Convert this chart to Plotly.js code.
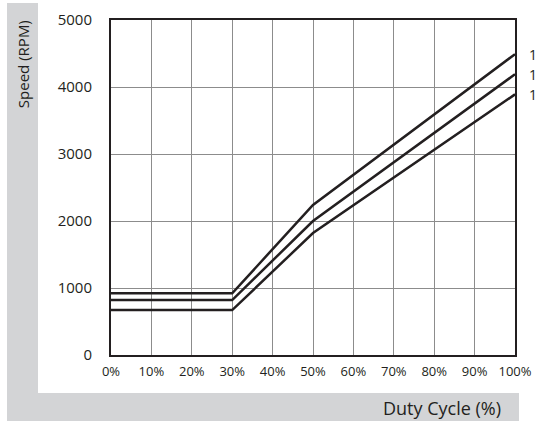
<!DOCTYPE html>
<html>
<head>
<meta charset="utf-8">
<script src="https://cdn.plot.ly/plotly-3.0.1.min.js"></script>
<style>html,body{margin:0;padding:0;background:#fff;}#chart{width:536px;height:421px;}</style>
</head>
<body>
<div id="chart"></div>
<script>
// Data
var dutyCycle = [0, 30, 50, 100];
var speedHigh = [920, 920, 2240, 4490];
var speedMid  = [820, 820, 2000, 4190];
var speedLow  = [670, 670, 1820, 3890];
var seriesLabels = ['1', '1', '1'];
var xTickVals = [0, 10, 20, 30, 40, 50, 60, 70, 80, 90, 100];
var xTickText = ['0%', '10%', '20%', '30%', '40%', '50%', '60%', '70%', '80%', '90%', '100%'];
var yTickVals = [0, 1000, 2000, 3000, 4000, 5000];
var yTickText = ['0', '1000', '2000', '3000', '4000', '5000'];

var FONT = 'Open Sans, Noto Sans, sans-serif';
var TXT = '#231f20';
var allSeries = [speedHigh, speedMid, speedLow];

var traces = allSeries.map(function (s) {
  return {
    x: dutyCycle, y: s, type: 'scatter', mode: 'lines',
    line: {color: '#231f20', width: 2.5},
    hoverinfo: 'skip', showlegend: false, cliponaxis: false
  };
});

var annotations = allSeries.map(function (s, i) {
  return {
    xref: 'paper', yref: 'y', x: 1.03, y: s[s.length - 1],
    xanchor: 'left', yanchor: 'middle', showarrow: false,
    text: seriesLabels[i], font: {family: FONT, size: 14, color: TXT}
  };
});
annotations.push({
  xref: 'paper', yref: 'paper', x: -0.218, y: 0.868,
  xanchor: 'center', yanchor: 'middle', showarrow: false, textangle: -90,
  text: 'Speed (RPM)', font: {family: FONT, size: 15, color: TXT}
});
annotations.push({
  xref: 'paper', yref: 'paper', x: 0.970, y: -0.158,
  xanchor: 'right', yanchor: 'middle', showarrow: false,
  text: 'Duty Cycle (%)', font: {family: FONT, size: 18, color: TXT}
});

var GRAY = '#d3d4d6';
var shapes = [
  {type: 'rect', xref: 'paper', yref: 'paper', x0: -0.2574, x1: -0.1807, y0: -0.197, y1: 1.0507,
   fillcolor: GRAY, line: {width: 0}, layer: 'below'},
  {type: 'rect', xref: 'paper', yref: 'paper', x0: -0.2574, x1: 1.0099, y0: -0.197, y1: -0.1134,
   fillcolor: GRAY, line: {width: 0}, layer: 'below'}
];

var layout = {
  width: 536, height: 421,
  margin: {l: 111, r: 21, t: 20, b: 66, pad: 0},
  paper_bgcolor: '#ffffff', plot_bgcolor: '#ffffff',
  font: {family: FONT, size: 13, color: TXT},
  showlegend: false,
  xaxis: {
    range: [0, 100], tickvals: xTickVals, ticktext: xTickText,
    showgrid: true, gridcolor: '#8c8c8c', gridwidth: 1,
    showline: true, linecolor: '#231f20', linewidth: 2, mirror: true,
    ticks: 'outside', ticklen: 3, tickcolor: 'rgba(0,0,0,0)',
    zeroline: false, fixedrange: true,
    tickfont: {family: FONT, size: 13, color: TXT}
  },
  yaxis: {
    range: [0, 5000], tickvals: yTickVals, ticktext: yTickText,
    showgrid: true, gridcolor: '#8c8c8c', gridwidth: 1,
    showline: true, linecolor: '#231f20', linewidth: 2, mirror: true,
    ticks: 'outside', ticklen: 14, tickcolor: 'rgba(0,0,0,0)',
    zeroline: false, fixedrange: true,
    tickfont: {family: FONT, size: 15, color: TXT}
  },
  shapes: shapes,
  annotations: annotations
};

Plotly.newPlot('chart', traces, layout, {staticPlot: true, displayModeBar: false});
</script>
</body>
</html>
